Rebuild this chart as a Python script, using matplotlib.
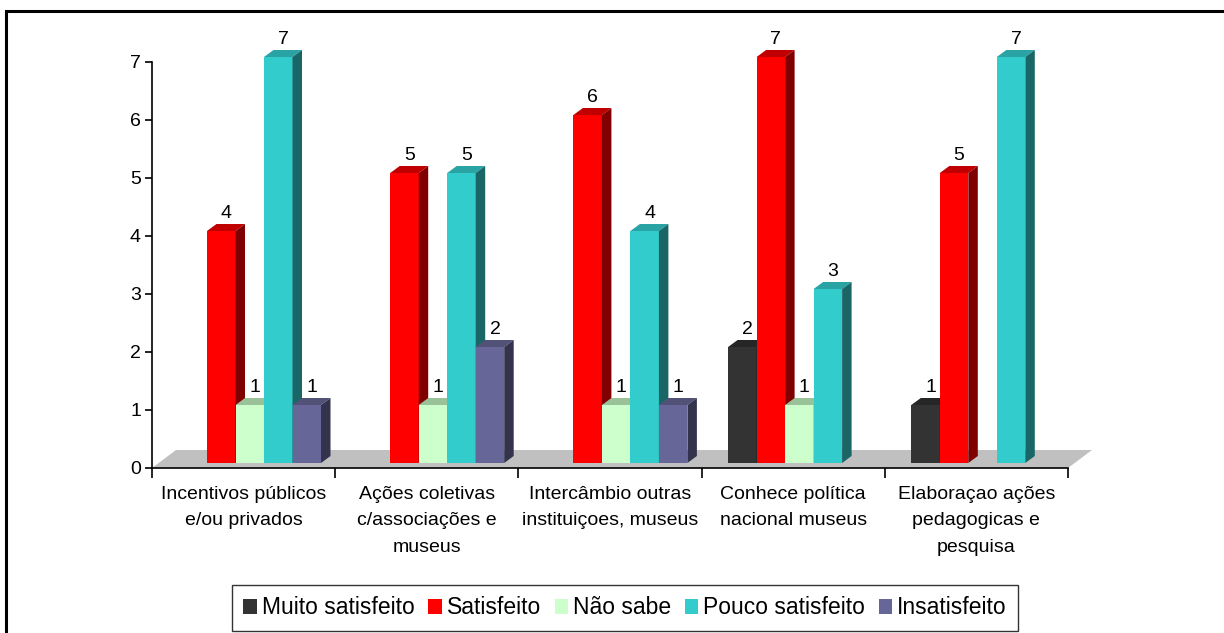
import matplotlib
matplotlib.use("Agg")
import matplotlib.pyplot as plt
from matplotlib.patches import Polygon, Rectangle, Patch

plt.rcParams['font.family'] = ['Liberation Sans', 'DejaVu Sans']

# data
categories = ["Incentivos públicos\ne/ou privados",
              "Ações coletivas\nc/associações e\nmuseus",
              "Intercâmbio outras\ninstituiçoes, museus",
              "Conhece política\nnacional museus",
              "Elaboraçao ações\npedagogicas e\npesquisa"]
series = ["Muito satisfeito", "Satisfeito", "Não sabe", "Pouco satisfeito", "Insatisfeito"]
muito = [0, 0, 0, 2, 1]
satisfeito = [4, 5, 6, 7, 5]
nao_sabe = [1, 1, 1, 1, 0]
pouco = [7, 5, 4, 3, 7]
insatisfeito = [1, 2, 1, 0, 0]
values = [muito, satisfeito, nao_sabe, pouco, insatisfeito]

front = ["#333333", "#FF0000", "#CCFFCC", "#33CCCC", "#666699"]
top = ["#262626", "#C00000", "#99C299", "#29A3A3", "#525279"]
side = ["#1A1A1A", "#800000", "#669966", "#1A6666", "#33334D"]

W, H = 1224, 633
fig = plt.figure(figsize=(W / 100, H / 100), dpi=100)
x0, x1, y0, y1 = 152, 1068, 468, 62
ax = fig.add_axes([x0 / W, 1 - y0 / H, (x1 - x0) / W, (y0 - y1) / H])
ax.set_xlim(0, 5)
ax.set_ylim(0, 7)

pxx = (x1 - x0) / 5.0   # px per category
pxy = (y0 - y1) / 7.0   # px per unit

# 3D offsets in data units
fdx, fdy = 24 / pxx, 18 / pxy      # floor depth
bdx, bdy = 9.5 / pxx, 7 / pxy      # bar depth
lift = 5 / pxy                     # bars stand a bit behind the front edge
bw = 28.5 / pxx
start = 26.5 / pxx

# floor
ax.add_patch(Polygon([(0, 0), (5, 0), (5 + fdx, fdy), (fdx, fdy)],
                     closed=True, facecolor="#C0C0C0", edgecolor="none",
                     zorder=1, clip_on=False))

z = 2
for c in range(len(categories)):
    for s in range(len(series)):
        v = values[s][c]
        if v == 0:
            continue
        xl = c + start + s * bw
        xr = xl + bw
        yb = lift
        yt = v + lift
        ax.add_patch(Polygon([(xl, yb), (xr, yb), (xr, yt), (xl, yt)],
                             facecolor=front[s], edgecolor="none", zorder=z, clip_on=False))
        ax.add_patch(Polygon([(xl, yt), (xr, yt), (xr + bdx, yt + bdy), (xl + bdx, yt + bdy)],
                             facecolor=top[s], edgecolor="none", zorder=z, clip_on=False))
        ax.add_patch(Polygon([(xr, yb), (xr + bdx, yb + bdy), (xr + bdx, yt + bdy), (xr, yt)],
                             facecolor=side[s], edgecolor="none", zorder=z, clip_on=False))
        ax.text(xl + bw / 2 + 5 / pxx, yt + 0.23, str(v), ha="center", va="baseline",
                fontsize=14, zorder=50, clip_on=False)
        z += 1

# axes styling
for sp in ["top", "right"]:
    ax.spines[sp].set_visible(False)
for sp in ["left", "bottom"]:
    ax.spines[sp].set_linewidth(1.2)
    ax.spines[sp].set_zorder(40)
ax.set_yticks(range(8))
ax.tick_params(axis="y", direction="out", length=5, width=1.2, labelsize=14, pad=3)
ax.set_xticks(range(6))
ax.set_xticklabels([""] * 6)
ax.tick_params(axis="x", which="major", direction="out", length=7, width=1.2)
ax.set_xticks([c + 0.5 for c in range(5)], minor=True)
ax.set_xticklabels(categories, minor=True, fontsize=14, linespacing=1.72, va="top")
ax.tick_params(axis="x", which="minor", length=0, pad=13)

# legend
handles = [Patch(facecolor=front[i], edgecolor="none", label=series[i]) for i in range(5)]
leg = fig.legend(handles=handles, loc="center", bbox_to_anchor=(625 / W, 1 - 608 / H),
                 ncol=5, fontsize=16.5, frameon=True, fancybox=False,
                 handlelength=0.6, handleheight=0.6, handletextpad=0.2,
                 columnspacing=0.6, borderpad=0.5)
leg.get_frame().set_edgecolor("black")
leg.get_frame().set_linewidth(1.0)

# outer border (cut off at right and bottom)
fig.patches.append(Rectangle((6 / W, -0.1), 1.2, 1.1 - 11 / H, transform=fig.transFigure,
                             fill=False, edgecolor="black", linewidth=2.2))

fig.savefig("out.png", dpi=100, facecolor="white")
